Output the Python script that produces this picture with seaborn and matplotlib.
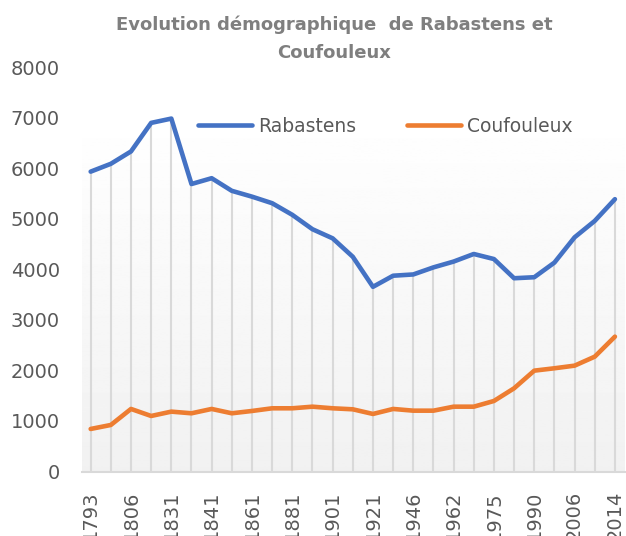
import numpy as np
import pandas as pd
import matplotlib
matplotlib.use('Agg')
import matplotlib.pyplot as plt
import seaborn as sns

sns.set_theme(style="white")
plt.rcParams['font.family'] = ['DejaVu Sans']

# census years (every other one is labelled on the axis)
years = ['1793', '1800', '1806', '1821', '1831', '1836', '1841', '1851', '1861',
         '1872', '1881', '1891', '1901', '1911', '1921', '1936', '1946', '1954',
         '1962', '1968', '1975', '1982', '1990', '1999', '2006', '2011', '2014']

rabastens = [5935, 6090, 6335, 6900, 6985, 5690, 5805, 5555, 5440, 5310, 5080,
             4795, 4615, 4250, 3655, 3875, 3900, 4040, 4155, 4305, 4205, 3825,
             3845, 4135, 4635, 4960, 5390]
coufouleux = [842, 921, 1238, 1099, 1185, 1152, 1238, 1152, 1198, 1251, 1251,
              1283, 1251, 1231, 1139, 1238, 1204, 1204, 1283, 1283, 1396, 1647,
              1996, 2043, 2095, 2273, 2669]

series = ['Rabastens', 'Coufouleux']
colors = {'Rabastens': '#4472C4', 'Coufouleux': '#ED7D31'}

idx = np.arange(len(years))
df = pd.DataFrame({
    'i': np.concatenate([idx, idx]),
    'pop': rabastens + coufouleux,
    'commune': ['Rabastens'] * len(idx) + ['Coufouleux'] * len(idx),
})

fig = plt.figure(figsize=(6.26, 5.36), dpi=100)
ax = fig.add_axes([82 / 626, 1 - 471.5 / 536, (625 - 82) / 626, (471.5 - 67.3) / 536])

xlo, xhi = -0.43, 26.5
# plot area gradient fill (white -> light grey)
grad = np.linspace(1.0, 0.945, 256).reshape(-1, 1)
ax.imshow(grad, cmap='gray', vmin=0, vmax=1, aspect='auto',
          extent=(xlo, xhi, 0, 7100), origin='upper', zorder=0)

# drop lines down from the highest series
ax.vlines(idx, 0, rabastens, color='#d9d9d9', lw=1.5, zorder=1)

sns.lineplot(data=df, x='i', y='pop', hue='commune', hue_order=series,
             palette=colors, linewidth=3.3, ax=ax, legend=False, zorder=3,
             solid_capstyle='round', solid_joinstyle='round')

ax.set_xlim(xlo, xhi)
ax.set_ylim(0, 8000)
ax.set_yticks(range(0, 8001, 1000))
ax.set_xticks(idx[::2])
ax.set_xticklabels(years[::2], rotation=90)
ax.tick_params(axis='x', length=0, pad=14, labelsize=14, labelcolor='#595959')
ax.tick_params(axis='y', length=0, pad=16, labelsize=14, labelcolor='#595959')
ax.set_xlabel('')
ax.set_ylabel('')
for s in ['top', 'right', 'left']:
    ax.spines[s].set_visible(False)
ax.spines['bottom'].set_color('#d9d9d9')
ax.spines['bottom'].set_linewidth(1.5)
ax.spines['bottom'].set_zorder(2)
ax.set_facecolor('white')

handles = [plt.Line2D([], [], color=colors[s], lw=3.3, solid_capstyle='round') for s in series]
fig.legend(handles, series, loc='center left', bbox_to_anchor=(198 / 626, 1 - 126 / 536),
           ncol=2, frameon=False, fontsize=13.5, handlelength=2.9, handletextpad=0.3,
           columnspacing=2.7, borderpad=0, borderaxespad=0, labelcolor='#595959')

fig.text(334 / 626, 1 - 25 / 536, 'Evolution démographique  de Rabastens et',
         ha='center', va='center', fontsize=13, fontweight='bold', color='#7f7f7f')
fig.text(334 / 626, 1 - 53 / 536, 'Coufouleux',
         ha='center', va='center', fontsize=13, fontweight='bold', color='#7f7f7f')

fig.savefig('out.png', dpi=100, facecolor='white')
